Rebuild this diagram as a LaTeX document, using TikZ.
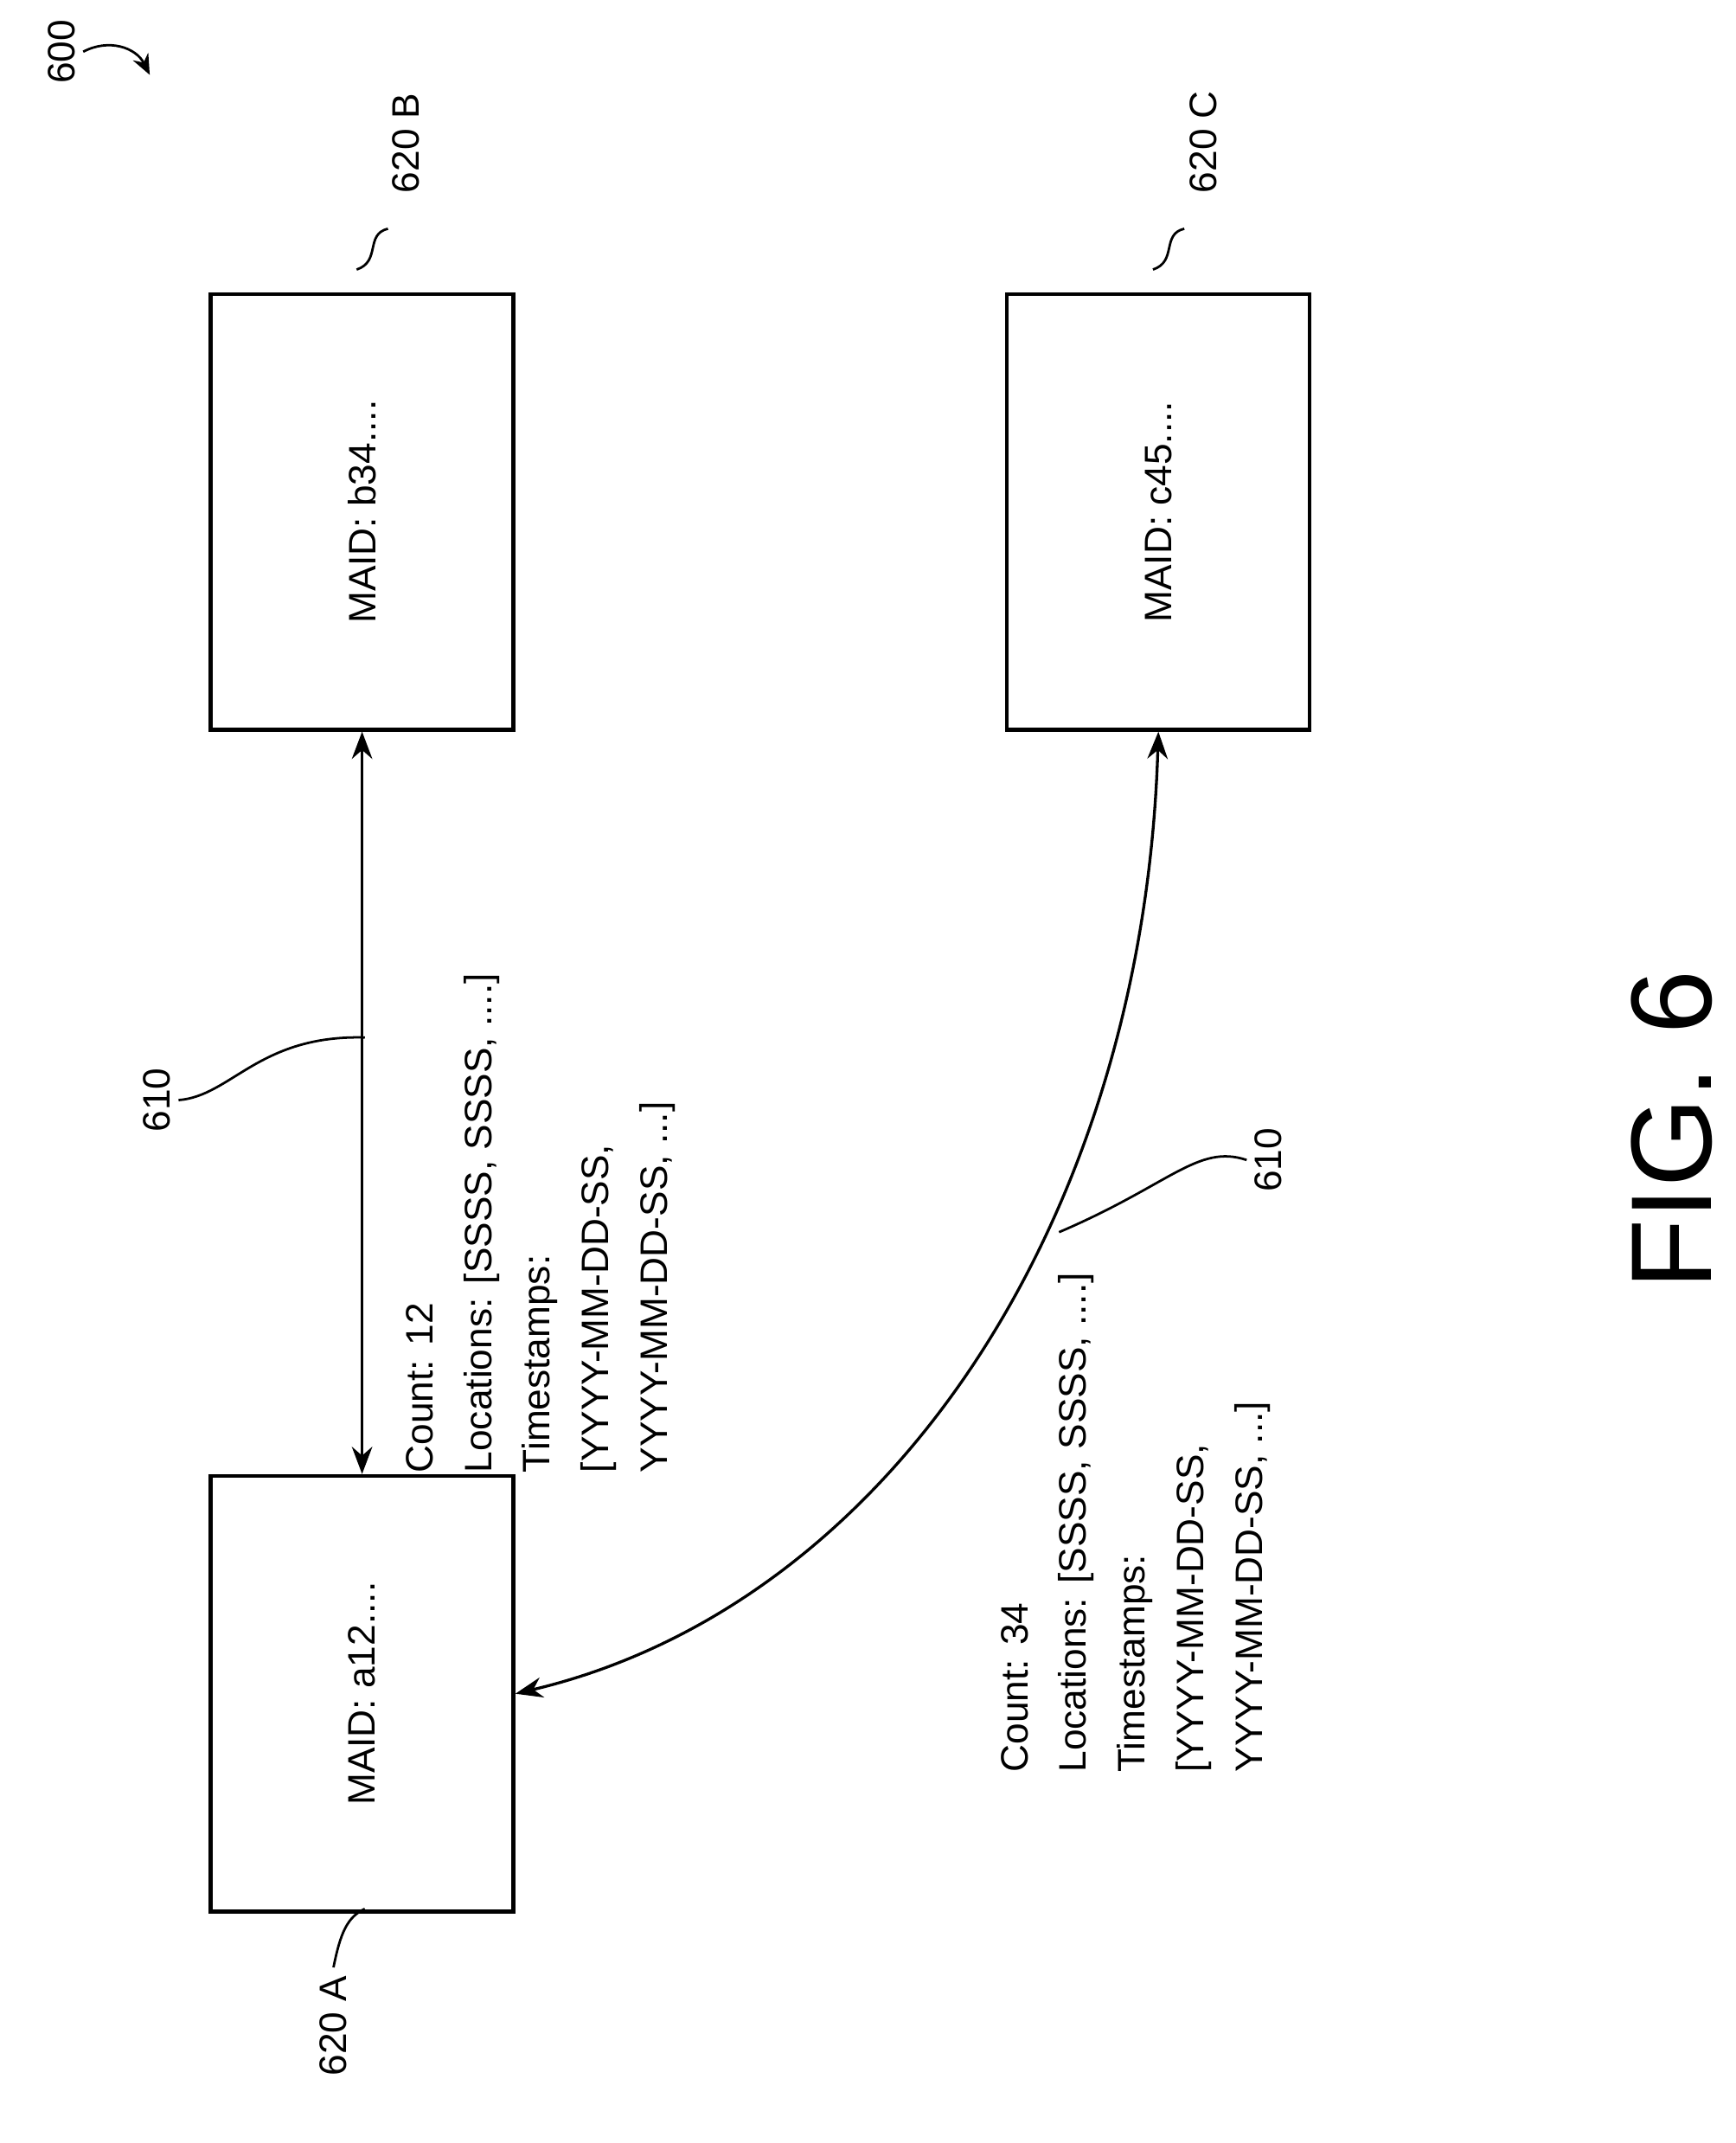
\documentclass[tikz,border=0pt]{standalone}
\usepackage{fontspec}
\setmainfont{Liberation Sans}
\usetikzlibrary{arrows.meta}
\begin{document}
\begin{tikzpicture}[x=0.02cm,y=-0.02cm,
  box/.style={draw,line width=1.6pt,minimum width=6.4cm,minimum height=4.45cm,rotate=90,font=\fontsize{16}{20}\selectfont},
  lbl/.style={rotate=90,font=\fontsize{16}{20}\selectfont},
  info/.style={rotate=90,anchor=north west,align=left,inner sep=0pt,font=\fontsize{16}{24.5}\selectfont},
  conn/.style={line width=1.2pt,{Stealth[length=4mm,width=3mm]}-{Stealth[length=4mm,width=3mm]}},
  lead/.style={line width=1pt}]
\useasboundingbox (0,0) rectangle (1275,1574);
%
\node[box] (boxA) at (266,1244) {MAID: a12....};
\node[box] (boxB) at (266,376) {MAID: b34....};
\node[box] (boxC) at (851,376) {MAID: c45....};
%
\draw[conn] (boxA.east) -- (boxB.west);
\draw[conn] (boxA.south) .. controls (650,1180) and (840,900) .. (boxC.west);
%
\node[info] (infoAB) at (298,1082) {Count: 12\\Locations: [SSSS, SSSS, ....]\\Timestamps:\\{}[YYYY-MM-DD-SS,\\YYYY-MM-DD-SS, ...]};
\node[info] (infoAC) at (735,1302) {Count: 34\\Locations: [SSSS, SSSS, ....]\\Timestamps:\\{}[YYYY-MM-DD-SS,\\YYYY-MM-DD-SS, ...]};
%
\coordinate (onAB) at (268,762);
\coordinate (onAC) at (778,905);
\node[lbl] (refAB) at (115,808) {610};
\node[lbl] (refAC) at (932,852) {610};
\draw[lead] (refAB.south) .. controls (170,805) and (190,760) .. (onAB);
\draw[lead] (refAC.north) .. controls (880,840) and (860,870) .. (onAC);
%
\node[lbl,anchor=east] (refA) at (245,1445) {620 A};
\node[lbl,anchor=west] (refB) at (298,148) {620 B};
\node[lbl,anchor=west] (refC) at (884,148) {620 C};
\draw[lead] (refA.east) .. controls (250,1420) and (255,1408) .. (268,1402);
\draw[lead] (262,198) .. controls (280,192) and (268,172) .. (285,168);
\draw[lead] (847,198) .. controls (865,192) and (853,172) .. (870,168);
%
\node[lbl] (fig) at (45,38) {600};
\draw[line width=1pt,-{Stealth[length=3mm,width=2.5mm]}] (fig.south) .. controls (80,28) and (100,35) .. (110,55);
%
\node[rotate=90,font=\fontsize{48}{58}\selectfont] (figlbl) at (1228,830) {FIG. 6};
\end{tikzpicture}
\end{document}
